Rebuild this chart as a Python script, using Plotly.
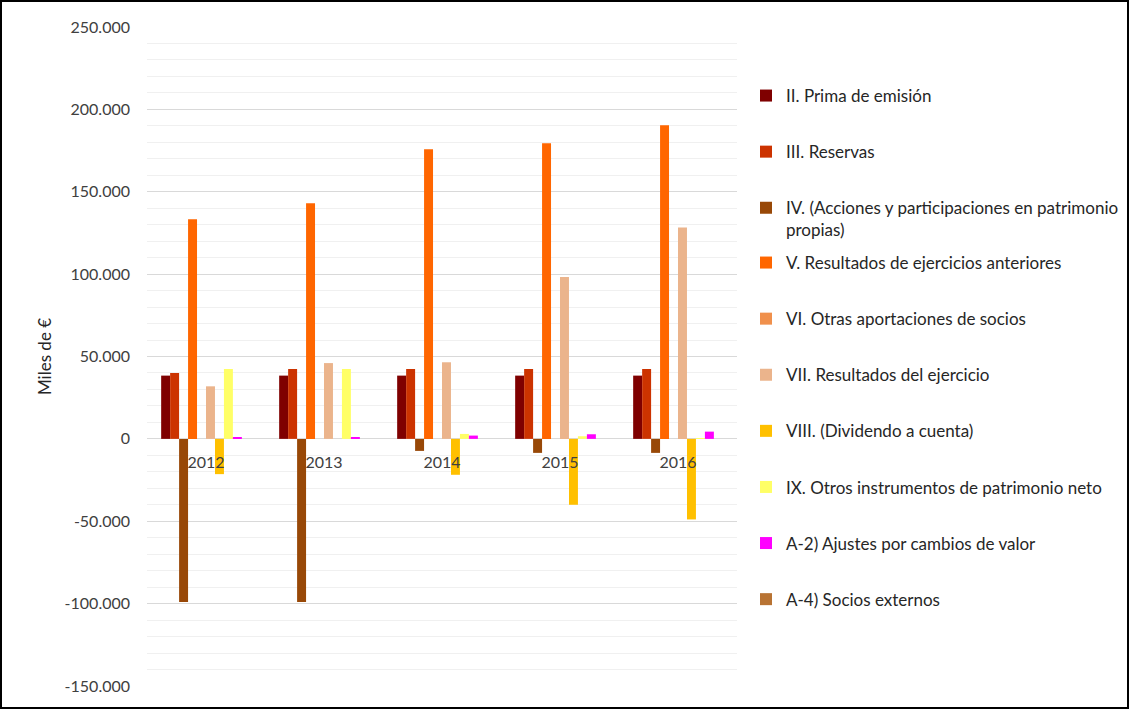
import plotly.graph_objects as go

years = ["2012", "2013", "2014", "2015", "2016"]

series_names = [
    "II. Prima de emisión",
    "III. Reservas",
    "IV. (Acciones y participaciones en patrimonio<br>propias)",
    "V. Resultados de ejercicios anteriores",
    "VI. Otras aportaciones de socios",
    "VII. Resultados del ejercicio",
    "VIII. (Dividendo a cuenta)",
    "IX. Otros instrumentos de patrimonio neto",
    "A-2) Ajustes por cambios de valor",
    "A-4) Socios externos",
]

prima_emision = [38400, 38400, 38400, 38400, 38400]
reservas = [40000, 42400, 42400, 42400, 42400]
acciones_propias = [-99000, -99000, -7300, -8500, -8500]
resultados_anteriores = [133300, 143000, 175800, 179400, 190300]
otras_aportaciones = [0, 0, 0, 0, 0]
resultados_ejercicio = [31900, 46000, 46500, 98200, 128300]
dividendo_cuenta = [-21400, 0, -21800, -40000, -48900]
otros_instrumentos = [42400, 42400, 3000, 1600, 500]
ajustes_valor = [1000, 1000, 2000, 2800, 4400]
socios_externos = [0, 0, 0, 0, 0]

series_values = [
    prima_emision, reservas, acciones_propias, resultados_anteriores,
    otras_aportaciones, resultados_ejercicio, dividendo_cuenta,
    otros_instrumentos, ajustes_valor, socios_externos,
]

colors = ["#7F0000", "#CC3300", "#984807", "#FF6600", "#F0904C",
          "#EBB48C", "#FFC000", "#FFFF66", "#FF00FF", "#B87333"]

tick_vals = [-150000, -100000, -50000, 0, 50000, 100000, 150000, 200000, 250000]
tick_text = ["-150.000", "-100.000", "-50.000", "0", "50.000", "100.000",
             "150.000", "200.000", "250.000"]

FONT = "Lato, Calibri, Carlito, sans-serif"

L, R, T, B = 147, 392, 27, 23
W, H = 1129, 709
pw = W - L - R
ph = H - T - B
ymin, ymax = -150000, 250000
zero_pos = (0 - ymin) / (ymax - ymin)

fig = go.Figure()
for i, (name, vals, col) in enumerate(zip(series_names, series_values, colors)):
    fig.add_trace(go.Bar(
        x=years, y=vals, name=name, marker_color=col,
        marker_line_width=0, legendgroup=f"g{i}",
        legend="legend" if i < 3 else "legend2",
    ))

legend_common = dict(
    xref="container", yref="container",
    xanchor="left", yanchor="top",
    traceorder="grouped", tracegroupgap=31, valign="top",
    font=dict(family=FONT, size=17, color="#262626"),
    bgcolor="rgba(0,0,0,0)", maxheight=700,
)
leg_x = 746 / W

fig.update_layout(
    width=W, height=H,
    margin=dict(l=L, r=R, t=T, b=B, autoexpand=False),
    paper_bgcolor="white", plot_bgcolor="white",
    barmode="group", bargap=0.24, bargroupgap=0,
    font=dict(family=FONT, size=16, color="#404040"),
    showlegend=True,
    legend=dict(x=leg_x, y=1 - 78 / H, **legend_common),
    legend2=dict(x=leg_x, y=1 - 245 / H, **legend_common),
    xaxis=dict(
        anchor="free", position=zero_pos, showline=False, showgrid=False,
        ticks="", tickfont=dict(size=16, color="#404040"), zeroline=False,
        ticklabelstandoff=12,
    ),
    yaxis=dict(
        range=[ymin, ymax], tickvals=tick_vals, ticktext=tick_text,
        showgrid=True, gridcolor="#D9D9D9", gridwidth=1,
        minor=dict(dtick=10000, showgrid=True, gridcolor="#F0F0F0", gridwidth=1),
        zeroline=False, showline=False, ticks="",
        tickfont=dict(size=16, color="#404040"), ticklabelstandoff=16,
        title=dict(text="Miles de €", font=dict(size=17, color="#262626"), standoff=8),
    ),
    shapes=[dict(
        type="rect", xref="paper", yref="paper",
        x0=(1 - L) / pw, x1=(W - 1 - L) / pw,
        y0=-(H - 1 - T - ph) / ph, y1=1 + (T - 1) / ph,
        line=dict(color="black", width=2), fillcolor="rgba(0,0,0,0)",
        layer="above",
    )],
)

fig.write_html("out.html")
